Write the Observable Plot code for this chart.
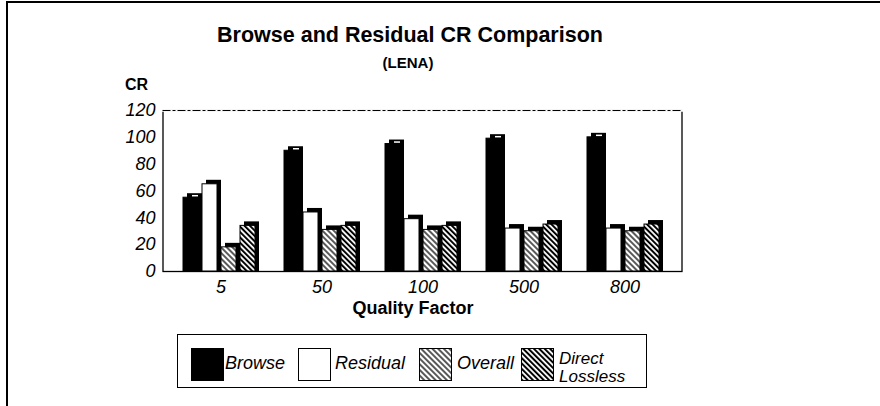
<!DOCTYPE html>
<html>
<head>
<meta charset="utf-8">
<script src="https://cdn.jsdelivr.net/npm/d3@7"></script>
<script src="https://cdn.jsdelivr.net/npm/@observablehq/plot@0.6"></script>
<style>
  html, body { margin: 0; padding: 0; background: #fff; }
  body { font-family: "Liberation Sans", Arial, Helvetica, sans-serif; color: #000; }
  #wrap { position: relative; width: 880px; height: 406px; overflow: hidden; }
  #wrap svg.plot { position: absolute; left: 0; top: 0; }
  .outer { position: absolute; left: 6px; top: 1px; width: 900px; height: 420px;
           border-top: 2px solid #000; border-left: 2px solid #000; }
  .t { position: absolute; white-space: nowrap; font-weight: bold; line-height: 1; }
  #title { left: 0; width: 820px; text-align: center; top: 25px; font-size: 21.5px; }
  #sub { left: 0; width: 816px; text-align: center; top: 55px; font-size: 15px; }
  #ylab { left: 125px; top: 77px; font-size: 16px; }
  #xlab { left: 0; width: 826px; text-align: center; top: 299px; font-size: 18px; }
  #legend { position: absolute; left: 177px; top: 334px; width: 470px; height: 54px;
            border: 1.3px solid #000; box-sizing: border-box;
            font-style: italic; font-size: 18px; }
  #legend svg { position: absolute; top: 13px; display: block; }
  #legend .lab { position: absolute; top: 19px; line-height: 1; white-space: nowrap; }
  #legend .lab.two { top: 15px; line-height: 17.5px; font-size: 17px; }
</style>
</head>
<body>
<svg width="0" height="0" style="position:absolute">
  <defs>
    <pattern id="hOverall" patternUnits="userSpaceOnUse" width="4" height="4" patternTransform="rotate(-45)">
      <rect width="4" height="4" fill="#fff"></rect>
      <line x1="1" y1="0" x2="1" y2="4" stroke="#000" stroke-width="1.3"></line>
    </pattern>
    <pattern id="hDirect" patternUnits="userSpaceOnUse" width="3.8" height="3.8" patternTransform="rotate(-45)">
      <rect width="3.8" height="3.8" fill="#fff"></rect>
      <line x1="1" y1="0" x2="1" y2="3.8" stroke="#000" stroke-width="2"></line>
    </pattern>
  </defs>
</svg>
<div id="wrap">
  <div class="outer"></div>
  <div class="t" id="title">Browse and Residual CR Comparison</div>
  <div class="t" id="sub">(LENA)</div>
  <div class="t" id="ylab">CR</div>
  <div class="t" id="xlab">Quality Factor</div>
  <div id="legend"></div>
</div>
<script>
// ---- data ----
const groups = ["5", "50", "100", "500", "800"];
const seriesNames = ["Browse", "Residual", "Overall", "Direct Lossless"];
const browse   = [55, 90, 95, 99, 100];
const residual = [65, 44, 39, 32, 32];
const overall  = [18, 31, 31, 30, 30];
const direct   = [34, 34, 34, 35, 35];
const yTicks = [0, 20, 40, 60, 80, 100, 120];
const fills = ["#000", "#fff", "url(#hOverall)", "url(#hDirect)"];

const seriesValues = [browse, residual, overall, direct];
const rows = groups.flatMap((q, i) =>
  seriesNames.map((s, j) => ({ q, series: s, value: seriesValues[j][i] })));
const browseRows = rows.filter(d => d.series === "Browse");

// the facet area starts inside the fx outer padding; extend the frame to the full plot box
const frameInset = { insetLeft: -12.5, insetRight: -11.5 };

const chart = Plot.plot({
  width: 880,
  height: 406,
  marginLeft: 163,
  marginRight: 198,
  marginTop: 110,
  marginBottom: 135,
  style: { fontFamily: "Liberation Sans, Arial, sans-serif", fontSize: "18px", fontStyle: "italic", background: "transparent", color: "#000" },
  fx: { domain: groups, paddingInner: 0.1, paddingOuter: 0.1, label: null, tickSize: 0, tickPadding: 9, axis: "bottom" },
  x: { domain: seriesNames, paddingInner: 0.22, paddingOuter: 0.5, align: 0.4, axis: null },
  y: { domain: [0, 120], ticks: yTicks, tickSize: 0, tickPadding: 20, label: null, tickFormat: d => String(d) },
  color: { domain: seriesNames, range: fills },
  marks: [
    Plot.frame({ facet: "super", stroke: "#000", strokeWidth: 1.3, ...frameInset }),
    Plot.frame({ facet: "super", anchor: "top", stroke: "#fff", strokeWidth: 2.5, ...frameInset }),
    Plot.frame({ facet: "super", anchor: "top", stroke: "#000", strokeWidth: 1, strokeDasharray: "7,3,2,3", ...frameInset }),
    Plot.barY(rows, { fx: "q", x: "series", y: "value", fill: "#000", dx: 4, insetTop: -4 }),
    Plot.barY(rows, { fx: "q", x: "series", y: "value", fill: "series", stroke: "#000", strokeWidth: 1 }),
    Plot.tickY(browseRows, { fx: "q", x: "series", y: "value", stroke: "#fff", strokeWidth: 1.5, dx: 4, dy: -2, insetLeft: 5, insetRight: 4 })
  ]
});
chart.classList.add("plot");
document.getElementById("wrap").appendChild(chart);

// ---- legend ----
const legend = document.getElementById("legend");
const swatchLeft = [13, 120, 241, 343];
const labelLeft = [47, 157, 279, 381];
seriesNames.forEach((s, j) => {
  const sw = document.createElementNS("http://www.w3.org/2000/svg", "svg");
  sw.setAttribute("width", 33); sw.setAttribute("height", 33);
  sw.style.left = swatchLeft[j] + "px";
  const r = document.createElementNS("http://www.w3.org/2000/svg", "rect");
  r.setAttribute("x", 0.5); r.setAttribute("y", 0.5); r.setAttribute("width", 32); r.setAttribute("height", 32);
  r.setAttribute("fill", fills[j]); r.setAttribute("stroke", "#000"); r.setAttribute("stroke-width", 1);
  sw.appendChild(r);
  legend.appendChild(sw);
  const label = document.createElement("div");
  label.className = "lab";
  label.style.left = labelLeft[j] + "px";
  if (s === "Direct Lossless") { label.classList.add("two"); label.innerHTML = "Direct<br>Lossless"; }
  else label.textContent = s;
  legend.appendChild(label);
});
</script>
</body>
</html>
